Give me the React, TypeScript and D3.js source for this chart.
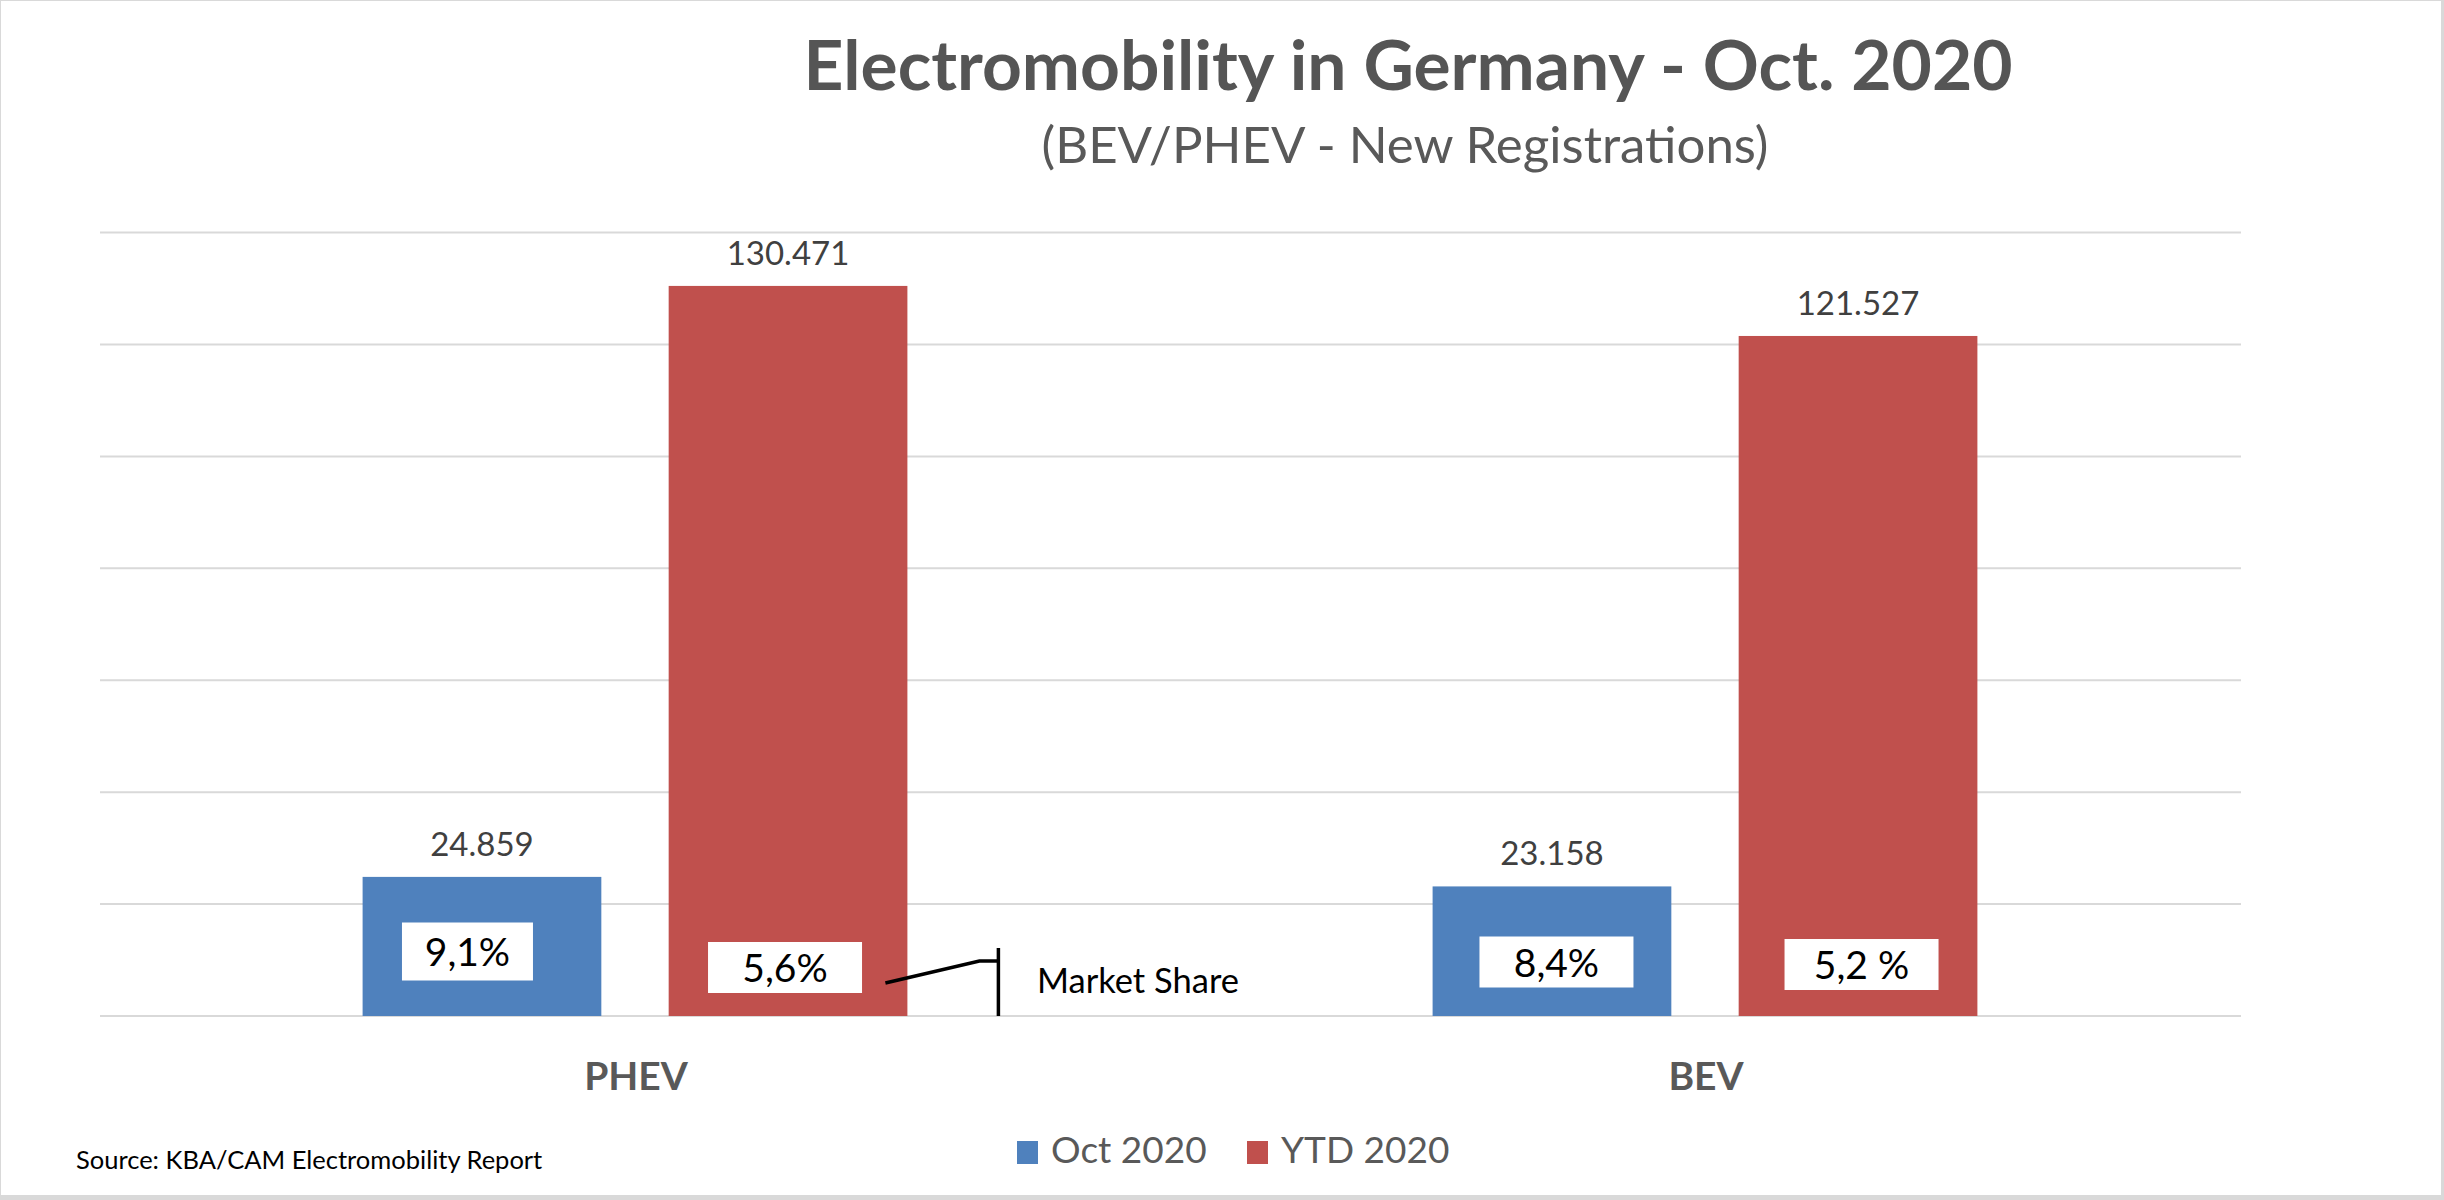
import React from "react";
import * as d3 from "d3";

// ---- data ----
const categories = ["PHEV", "BEV"];
const seriesNames = ["Oct 2020", "YTD 2020"];
const oct2020 = [24859, 23158];
const ytd2020 = [130471, 121527];
const shareOct2020 = ["9,1%", "8,4%"];
const shareYtd2020 = ["5,6%", "5,2 %"];
const yTickValues = [0, 20000, 40000, 60000, 80000, 100000, 120000, 140000];
const titleText = "Electromobility in Germany - Oct. 2020";
const subtitleText = "(BEV/PHEV - New Registrations)";
const sourceText = "Source: KBA/CAM Electromobility Report";
const annotationText = "Market Share";

// ---- layout / style ----
const W = 2444;
const H = 1200;
const plot = { left: 100, right: 2240, top: 232.6, bottom: 1016 };
const colors = ["#4F81BD", "#C0504D"];
const FONT = "Lato, 'Open Sans', sans-serif";
// share-box layout per [category][series]: dx from bar centre, box centre y, width, height
const shareBoxes = [
  [
    { dx: -14.5, cy: 951.5, w: 131, h: 58 },
    { dx: -3, cy: 967.5, w: 154, h: 51 },
  ],
  [
    { dx: 4.5, cy: 962, w: 154, h: 51 },
    { dx: 3.5, cy: 964.5, w: 154, h: 51 },
  ],
];

const locale = d3.formatLocale({
  decimal: ",",
  thousands: ".",
  grouping: [3],
  currency: ["", "€"],
});
const fmt = locale.format(",d");

export default function App() {
  const x0 = d3
    .scaleBand<string>()
    .domain(categories)
    .range([plot.left, plot.right])
    .padding(0);
  const x1 = d3
    .scaleBand<string>()
    .domain(seriesNames)
    .range([0, x0.bandwidth()])
    .paddingInner(0.22)
    .paddingOuter(0.858);
  const y = d3
    .scaleLinear()
    .domain([0, 140000])
    .range([plot.bottom, plot.top]);

  const seriesValues = [oct2020, ytd2020];
  const seriesShares = [shareOct2020, shareYtd2020];

  // market share annotation anchored on PHEV YTD bar
  const annBarRight =
    (x0(categories[0]) as number) +
    (x1(seriesNames[1]) as number) +
    x1.bandwidth();
  const annLine = d3.line()([
    [annBarRight - 22, 983],
    [annBarRight + 72, 961],
    [annBarRight + 91, 961],
  ]);
  const annVx = annBarRight + 91;

  return (
    <svg
      width={W}
      height={H}
      viewBox={`0 0 ${W} ${H}`}
      style={{ position: "absolute", left: 0, top: 0, display: "block" }}
      fontFamily={FONT}
    >
      <rect x={0} y={0} width={W} height={H} fill="#ffffff" />
      {/* outer frame */}
      <rect x={0.5} y={0.5} width={W - 3} height={H - 5} fill="none" stroke="#d9d9d9" strokeWidth={1} />
      <rect x={W - 2.5} y={0} width={2.5} height={H} fill="#d9d9d9" />
      <rect x={0} y={H - 4.5} width={W} height={4.5} fill="#d9d9d9" />

      {/* title */}
      <text x={1408} y={90} textAnchor="middle" fontSize={69.5} fontWeight={700} fill="#555555">
        {titleText}
      </text>
      <text x={1405} y={163} textAnchor="middle" fontSize={51} fill="#595959">
        {subtitleText}
      </text>

      {/* gridlines */}
      {yTickValues.map((t) => (
        <line
          key={t}
          x1={plot.left}
          x2={plot.right + 1}
          y1={y(t)}
          y2={y(t)}
          stroke="#d9d9d9"
          strokeWidth={2}
        />
      ))}

      {/* bars */}
      {categories.map((cat, ci) => (
        <g key={cat} transform={`translate(${x0(cat)},0)`}>
          {seriesNames.map((s, si) => {
            const v = seriesValues[si][ci];
            const bx = x1(s) as number;
            const bw = x1.bandwidth();
            return (
              <g key={s}>
                <rect x={bx} y={y(v)} width={bw} height={y(0) - y(v)} fill={colors[si]} />
                <text
                  x={bx + bw / 2}
                  y={y(v) - 21}
                  textAnchor="middle"
                  fontSize={33}
                  fill="#404040"
                >
                  {fmt(v)}
                </text>
              </g>
            );
          })}
        </g>
      ))}

      {/* share boxes */}
      {categories.map((cat, ci) =>
        seriesNames.map((s, si) => {
          const b = shareBoxes[ci][si];
          const cx = (x0(cat) as number) + (x1(s) as number) + x1.bandwidth() / 2 + b.dx;
          return (
            <g key={cat + s}>
              <rect x={cx - b.w / 2} y={b.cy - b.h / 2} width={b.w} height={b.h} fill="#ffffff" />
              <text x={cx} y={b.cy + 14.5} textAnchor="middle" fontSize={39} fill="#000000">
                {seriesShares[si][ci]}
              </text>
            </g>
          );
        })
      )}

      {/* market share annotation */}
      <path d={annLine || ""} fill="none" stroke="#000" strokeWidth={3.5} />
      <line x1={annVx} x2={annVx} y1={948} y2={plot.bottom} stroke="#000" strokeWidth={3.5} />
      <text x={1037} y={993} fontSize={34.5} fill="#000000">
        {annotationText}
      </text>

      {/* category labels */}
      {categories.map((cat) => (
        <text
          key={cat}
          x={(x0(cat) as number) + x0.bandwidth() / 2 + 1}
          y={1090}
          textAnchor="middle"
          fontSize={39}
          fontWeight={700}
          fill="#595959"
        >
          {cat}
        </text>
      ))}

      {/* legend */}
      {seriesNames.map((s, si) => {
        const lx = [1017, 1247][si];
        return (
          <g key={s}>
            <rect x={lx} y={1141} width={21} height={23} fill={colors[si]} />
            <text x={lx + 34} y={1163} fontSize={37} fill="#595959">
              {s}
            </text>
          </g>
        );
      })}

      {/* source */}
      <text x={76} y={1169} fontSize={25.5} fill="#000000">
        {sourceText}
      </text>
    </svg>
  );
}
